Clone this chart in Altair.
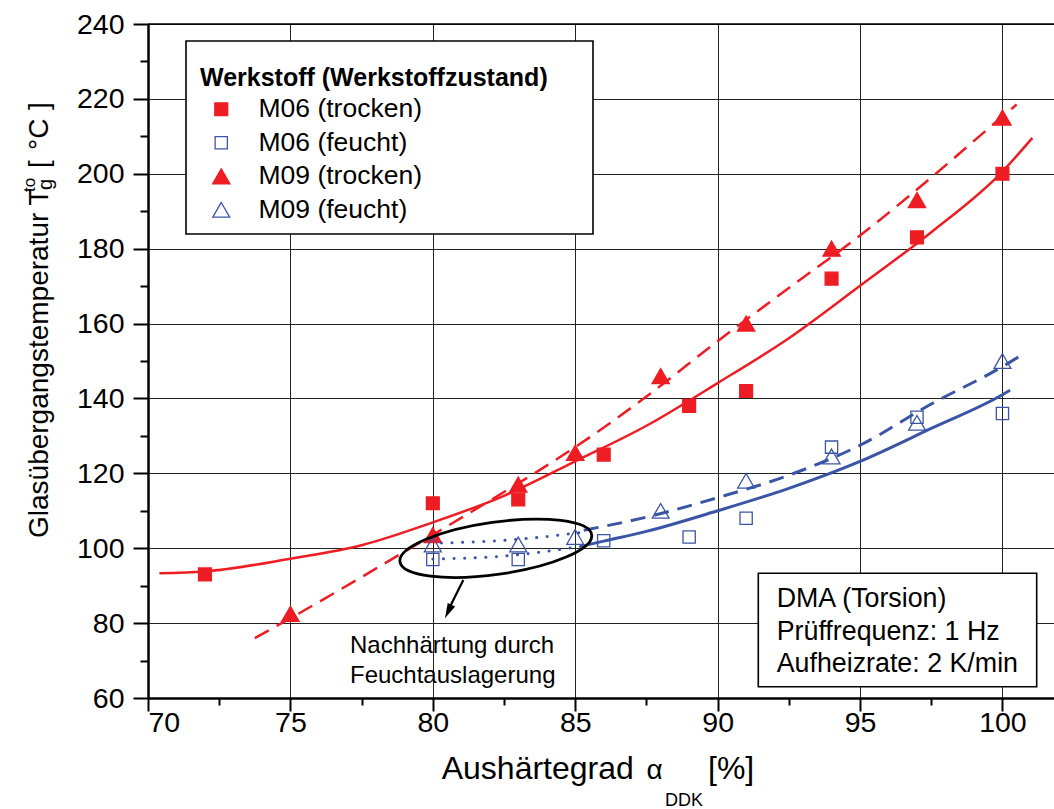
import altair as alt
import pandas as pd

FONT = "Liberation Sans"
RED = "#EE1D23"
BLUE = "#3A55A5"

# Glass transition temperature (DMA) per material and condition
series_names = ["M06 (trocken)", "M06 (feucht)", "M09 (trocken)", "M09 (feucht)"]

m06_trocken_x = [72, 80, 83, 86, 89, 91, 94, 97, 100]
m06_trocken_y = [93, 112, 113, 125, 138, 142, 172, 183, 200]
m06_feucht_x = [80, 83, 86, 89, 91, 94, 97, 100]
m06_feucht_y = [97, 97, 102, 103, 108, 127, 135, 136]
m09_trocken_x = [75, 80, 83, 85, 88, 91, 94, 97, 100]
m09_trocken_y = [82.5, 103.5, 117, 125.5, 146, 160, 180, 193, 215]
m09_feucht_x = [80, 83, 85, 88, 91, 94, 97, 100]
m09_feucht_y = [101, 101, 103, 110, 118, 124.5, 133.5, 150]

# Trend curves
fit_m06_trocken_x = [70.4, 72, 75, 77.5, 80, 82.5, 85, 87.5, 90, 92.5, 95, 97.5, 100, 101.05]
fit_m06_trocken_y = [93.3, 93.8, 97.2, 100.8, 106.9, 114.0, 123.2, 132.7, 144.1, 156.1, 170.1, 184.4, 200.6, 209.6]
fit_m09_trocken_x = [73.75, 75, 77.5, 80, 82.5, 85, 87.5, 90, 92.5, 95, 97.5, 100, 100.5]
fit_m09_trocken_y = [76, 81.3, 92.3, 103.6, 115, 127, 140.5, 155.3, 169.5, 183.5, 199, 215.3, 218.5]
fit_m06_feucht_x = [85.2, 86, 87.5, 90, 92.5, 95, 97.5, 100, 100.27]
fit_m06_feucht_y = [100.5, 101.9, 104.5, 110, 116, 123.2, 132, 141, 142.2]
fit_m09_feucht_x = [85.3, 87.5, 90, 92.5, 95, 97.5, 100, 100.7]
fit_m09_feucht_y = [104.8, 108.3, 113.5, 119.5, 127.5, 138.5, 148.5, 151.7]

# Post-curing after humid storage (dotted segments)
nach_m06_x = [80, 82.5, 85.2]
nach_m06_y = [97.1, 97.9, 100.5]
nach_m09_x = [80.3, 82.5, 85.3]
nach_m09_y = [101.4, 102.1, 104.3]

# Axis ticks (major + minor)
x_ticks = [70, 72.5, 75, 77.5, 80, 82.5, 85, 87.5, 90, 92.5, 95, 97.5, 100]
y_ticks = [60, 70, 80, 90, 100, 110, 120, 130, 140, 150, 160, 170, 180, 190, 200, 210, 220, 230, 240]

W, H = 906, 674
X_DOMAIN = [70, 101.81]
Y_DOMAIN = [60, 240]

points = pd.concat([
    pd.DataFrame({"x": m06_trocken_x, "y": m06_trocken_y, "serie": series_names[0]}),
    pd.DataFrame({"x": m06_feucht_x, "y": m06_feucht_y, "serie": series_names[1]}),
    pd.DataFrame({"x": m09_trocken_x, "y": m09_trocken_y, "serie": series_names[2]}),
    pd.DataFrame({"x": m09_feucht_x, "y": m09_feucht_y, "serie": series_names[3]}),
], ignore_index=True)

xs = alt.Scale(domain=X_DOMAIN, nice=False, zero=False)
ys = alt.Scale(domain=Y_DOMAIN, nice=False, zero=False)

x_axis = alt.Axis(
    values=x_ticks, title=None, labelFont=FONT, labelFontSize=28.5, labelColor="black",
    labelExpr="datum.value % 5 === 0 ? datum.label : ''", labelPadding=-3,
    domainColor="black", domainWidth=2.5, tickColor="black", tickWidth=2,
    tickSize={"condition": {"test": "datum.value % 5 === 0", "value": 13}, "value": 7},
    grid=True, gridColor="#222222", gridWidth=1,
    gridOpacity={"condition": {"test": "datum.value % 5 === 0", "value": 1}, "value": 0},
)
y_axis = alt.Axis(
    values=y_ticks, title=None, labelFont=FONT, labelFontSize=28.5, labelColor="black",
    labelExpr="datum.value % 20 === 0 ? datum.label : ''", labelPadding=9,
    domainColor="black", domainWidth=2.5, tickColor="black", tickWidth=2,
    tickSize={"condition": {"test": "datum.value % 20 === 0", "value": 15}, "value": 8},
    grid=True, gridColor="#222222", gridWidth=1,
    gridOpacity={"condition": {"test": "datum.value % 20 === 0", "value": 1}, "value": 0},
)

X = alt.X("x:Q", scale=xs, axis=x_axis)
Y = alt.Y("y:Q", scale=ys, axis=y_axis)

legend = alt.Legend(
    title="Werkstoff (Werkstoffzustand)", orient="none", legendX=38, legendY=28,
    padding=14, titleFont=FONT, titleFontSize=25, titleFontWeight="bold", titleColor="black",
    titleLimit=600, titlePadding=5, labelFont=FONT, labelFontSize=26.5, labelColor="black",
    labelLimit=400, rowPadding=6.5, symbolOffset=8, labelOffset=24, symbolStrokeWidth=1.3,
)

def line(xv, yv, color, width, dash=None, cap="butt"):
    df = pd.DataFrame({"x": xv, "y": yv})
    kw = dict(color=color, strokeWidth=width, interpolate="monotone", strokeCap=cap)
    if dash:
        kw["strokeDash"] = dash
    return alt.Chart(df).mark_line(**kw).encode(x=X, y=Y)

curves = [
    line(fit_m06_trocken_x, fit_m06_trocken_y, RED, 2.5),
    line(fit_m09_trocken_x, fit_m09_trocken_y, RED, 2.5, [16, 9]),
    line(fit_m06_feucht_x, fit_m06_feucht_y, BLUE, 3),
    line(fit_m09_feucht_x, fit_m09_feucht_y, BLUE, 3, [15, 9]),
    line(nach_m06_x, nach_m06_y, BLUE, 3, [0.1, 10.5], "round"),
    line(nach_m09_x, nach_m09_y, BLUE, 3, [0.1, 10.5], "round"),
]

one = pd.DataFrame({"k": [0]})

def box(x0, y0, x1, y1):
    return alt.Chart(one).mark_rect(fill="white", stroke="black", strokeWidth=1.6).encode(
        x=alt.value(x0), x2=alt.value(x1), y=alt.value(y0), y2=alt.value(y1)
    )

frames = [box(38, 17, 445, 210), box(610.3, 549.3, 888.7, 662.7)]

marks = alt.Chart(points).mark_point(filled=True, strokeWidth=1.3, opacity=1).encode(
    x=X, y=Y,
    shape=alt.Shape("serie:N", scale=alt.Scale(domain=series_names,
                    range=["square", "square", "triangle-up", "triangle-up"]), legend=legend),
    fill=alt.Fill("serie:N", scale=alt.Scale(domain=series_names,
                  range=[RED, "transparent", RED, "transparent"]), legend=legend),
    stroke=alt.Stroke("serie:N", scale=alt.Scale(domain=series_names,
                      range=[RED, BLUE, RED, BLUE]), legend=legend),
    size=alt.Size("serie:N", scale=alt.Scale(type="ordinal", domain=series_names,
                  range=[165, 150, 300, 285]), legend=legend),
)

def label(text, x, y, size, angle=0, weight="normal"):
    return alt.Chart(pd.DataFrame({"t": [text]})).mark_text(
        font=FONT, fontSize=size, align="left", baseline="alphabetic", color="black",
        angle=angle, fontWeight=weight,
    ).encode(x=alt.value(x), y=alt.value(y), text="t:N")

texts = [
    label("DMA (Torsion)", 628.7, 582.7, 26.8),
    label("Prüffrequenz: 1 Hz", 628.7, 616, 26.8),
    label("Aufheizrate: 2 K/min", 628.7, 647.7, 26.8),
    label("Nachhärtung durch", 202, 629.3, 24),
    label("Feuchtauslagerung", 202, 659.3, 24),
    # x axis title
    label("Aushärtegrad", 293.7, 755, 32),
    label("α", 498.5, 755, 28),
    label("DDK", 517, 782, 18),
    label("[%]", 560, 755, 32),
    # y axis title
    label("Glasübergangstemperatur T", -100, 514, 28, angle=270),
    label("g", -96.5, 166, 20, angle=270),
    label("to", -113.5, 168, 17, angle=270),
    label("[", -100, 144, 28, angle=270),
    label("°C", -100, 126, 28, angle=270),
    label("]", -100, 86, 28, angle=270),
]

# post-curing ellipse and arrow
ellipse = alt.Chart(one).mark_point(
    shape="M -1 0 A 1 0.27 0 1 1 1 0 A 1 0.27 0 1 1 -1 0 Z",
    filled=False, color="black", strokeWidth=2.8, opacity=1, size=37481, angle=352,
).encode(x=alt.value(347.8), y=alt.value(524.3))

arrow_line = alt.Chart(one).mark_rule(color="black", strokeWidth=2.2).encode(
    x=alt.value(315.3), y=alt.value(556), x2=alt.value(300.8), y2=alt.value(585)
)
arrow_head = alt.Chart(one).mark_point(
    shape="M 0 1 L -0.55 -1 L 0.55 -1 Z", filled=True, color="black", opacity=1,
    size=225, angle=25.5,
).encode(x=alt.value(300.2), y=alt.value(587.5))

top_rule = alt.Chart(one).mark_rule(color="black", strokeWidth=1.5).encode(
    x=alt.value(0), x2=alt.value(W), y=alt.value(0)
)

chart = alt.layer(
    marks, *curves, *frames, ellipse, arrow_line, arrow_head, top_rule, *texts
).properties(
    width=W, height=H,
    padding={"left": 148, "top": 24, "right": 0, "bottom": 111},
    autosize=alt.AutoSizeParams(type="none"),
    background="white",
).configure_view(stroke=None)

chart.save("out.html", embed_options={"renderer": "svg", "actions": False})
